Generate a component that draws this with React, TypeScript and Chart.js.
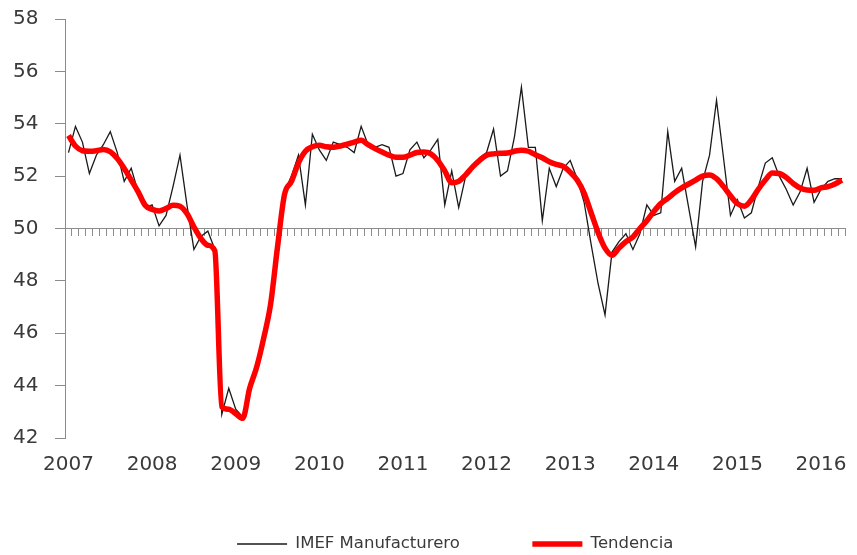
import React, { useEffect, useRef } from 'react';
import { Chart, registerables } from 'chart.js';

Chart.register(...registerables);

// Categories: monthly, Jan 2007 – Apr 2016
const years = [2007, 2008, 2009, 2010, 2011, 2012, 2013, 2014, 2015, 2016];
const months = ['01', '02', '03', '04', '05', '06', '07', '08', '09', '10', '11', '12'];
const lastMonth = '2016-04';
const categories: string[] = [];
for (const y of years) {
  for (const m of months) {
    const label = `${y}-${m}`;
    if (categories.length === 0 || categories[categories.length - 1] !== lastMonth) categories.push(label);
  }
}

const imefManufacturero = [
  52.9, 53.9, 53.3, 52.1, 52.8, 53.2, 53.7, 52.9, 51.8, 52.3, 51.4, 50.8,
  50.9, 50.1, 50.5, 51.6, 52.8, 50.9, 49.2, 49.7, 49.9, 49.2, 42.9, 43.9,
  43.1, 42.8, 44.0, 44.8, 45.9, 47.3, 49.6, 51.4, 52.0, 52.8, 50.9, 53.6,
  53.0, 52.6, 53.3, 53.2, 53.1, 52.9, 53.9, 53.2, 53.1, 53.2, 53.1, 52.0,
  52.1, 53.0, 53.3, 52.7, 53.0, 53.4, 50.9, 52.2, 50.8, 52.0, 52.3, 52.7,
  52.9, 53.8, 52.0, 52.2, 53.5, 55.4, 53.1, 53.1, 50.3, 52.3, 51.6, 52.3,
  52.6, 51.9, 51.0, 49.4, 47.9, 46.7, 49.1, 49.5, 49.8, 49.2, 49.8, 50.9,
  50.5, 50.6, 53.7, 51.8, 52.3, 50.8, 49.3, 51.8, 52.8, 54.9, 52.7, 50.5,
  51.1, 50.4, 50.6, 51.6, 52.5, 52.7, 52.0, 51.5, 50.9, 51.4, 52.3, 51.0,
  51.5, 51.8, 51.9, 51.9,
];

const tendencia = [
  53.55, 53.15, 52.97, 52.95, 52.97, 53.02, 52.93, 52.67, 52.29, 51.85, 51.4, 50.89,
  50.73, 50.67, 50.76, 50.89, 50.85, 50.57, 50.06, 49.62, 49.36, 49.15, 43.2, 43.1,
  42.93, 42.75, 43.9, 44.7, 45.8, 47.1, 49.3, 51.3, 51.8, 52.5, 52.95, 53.12,
  53.18, 53.12, 53.1, 53.15, 53.22, 53.3, 53.37, 53.2, 53.05, 52.92, 52.8, 52.72,
  52.72, 52.8, 52.9, 52.92, 52.85, 52.6, 52.2, 51.75, 51.8, 52.05, 52.35, 52.6,
  52.8, 52.85, 52.87, 52.88, 52.95, 52.99, 52.95, 52.82, 52.7, 52.55, 52.45, 52.37,
  52.15, 51.85, 51.35, 50.6, 49.85, 49.25, 48.98, 49.25, 49.5, 49.68, 50.0, 50.3,
  50.65, 50.95, 51.15, 51.37, 51.55, 51.7, 51.85, 52.0, 52.04, 51.9, 51.6, 51.25,
  50.95, 50.85, 51.1, 51.5, 51.85, 52.12, 52.1, 51.95, 51.72, 51.55, 51.47, 51.46,
  51.55, 51.6, 51.7, 51.85,
];

const yMin = 42;
const yMax = 58;
const yStep = 2;
const axisCross = 50;
const seriesNames = ['IMEF Manufacturero', 'Tendencia'];

const FONT = 'DejaVu Sans';
const AXIS_GREY = '#8c8c8c';
const TEXT = '#3a3a3a';

export default function App() {
  const ref = useRef<HTMLCanvasElement | null>(null);

  useEffect(() => {
    if (!ref.current) return;
    const chart = new Chart(ref.current, {
      type: 'line',
      data: {
        labels: categories,
        datasets: [
          {
            label: seriesNames[0],
            data: imefManufacturero,
            borderColor: '#1a1a1a',
            backgroundColor: '#1a1a1a',
            borderWidth: 1.3,
            pointRadius: 0,
            pointHoverRadius: 0,
            pointBorderWidth: 1.3,
            pointBorderColor: '#1a1a1a',
            pointBackgroundColor: '#1a1a1a',
            tension: 0,
            order: 1,
          },
          {
            label: seriesNames[1],
            data: tendencia,
            borderColor: '#ff0000',
            backgroundColor: '#ff0000',
            borderWidth: 5.5,
            pointRadius: 0,
            pointHoverRadius: 0,
            pointBorderWidth: 5.5,
            pointBorderColor: '#ff0000',
            pointBackgroundColor: '#ff0000',
            cubicInterpolationMode: 'monotone',
            order: 0,
          },
        ],
      },
      options: {
        responsive: false,
        animation: false,
        layout: { padding: { left: 13, right: 2, top: 19, bottom: -7.25 } },
        scales: {
          // main category axis (spacer below the plot, no labels)
          x: {
            type: 'category',
            offset: true,
            position: 'bottom',
            grid: { display: false, drawTicks: false },
            border: { display: false },
            ticks: { display: false },
            afterFit: (s: any) => { s.height = 25.25; },
          },
          // year labels along the bottom of the plot
          xYears: {
            type: 'category',
            offset: true,
            position: { y: yMin } as any,
            grid: { display: false, drawTicks: false },
            border: { display: false },
            ticks: {
              autoSkip: false,
              maxRotation: 0,
              minRotation: 0,
              padding: 15,
              color: TEXT,
              font: { family: FONT, size: 20 },
              callback: (_v: any, i: number) => (i % 12 === 0 ? categories[i].slice(0, 4) : ''),
            },
          },
          // horizontal axis line crossing at 50 with monthly tick marks
          xCross: {
            type: 'category',
            offset: true,
            position: { y: axisCross } as any,
            grid: { display: true, drawOnChartArea: false, drawTicks: true, tickLength: 7, color: AXIS_GREY, offset: true },
            border: { display: true, color: AXIS_GREY, width: 1 },
            ticks: { display: false },
          },
          y: {
            min: yMin,
            max: yMax,
            grid: { display: true, drawOnChartArea: false, drawTicks: true, tickLength: 10, color: AXIS_GREY },
            border: { display: true, color: AXIS_GREY, width: 1 },
            ticks: {
              stepSize: yStep,
              padding: 0,
              crossAlign: 'far',
              color: TEXT,
              font: { family: FONT, size: 20 },
            },
            afterFit: (s: any) => { s.width = 52; },
          },
        },
        plugins: {
          legend: {
            display: true,
            position: 'bottom',
            fullSize: false,
            labels: {
              usePointStyle: true,
              pointStyle: 'line',
              pointStyleWidth: 50,
              padding: 72.5,
              color: TEXT,
              font: { family: FONT, size: 16.5 },
              sort: (a: any, b: any) => a.datasetIndex - b.datasetIndex,
            },
          },
          tooltip: { enabled: false },
        },
      },
    });
    return () => chart.destroy();
  }, []);

  return (
    <div style={{ position: 'fixed', left: 0, top: 0, width: 857, height: 555, background: '#fff' }}>
      <canvas ref={ref} width={857} height={555} />
    </div>
  );
}
